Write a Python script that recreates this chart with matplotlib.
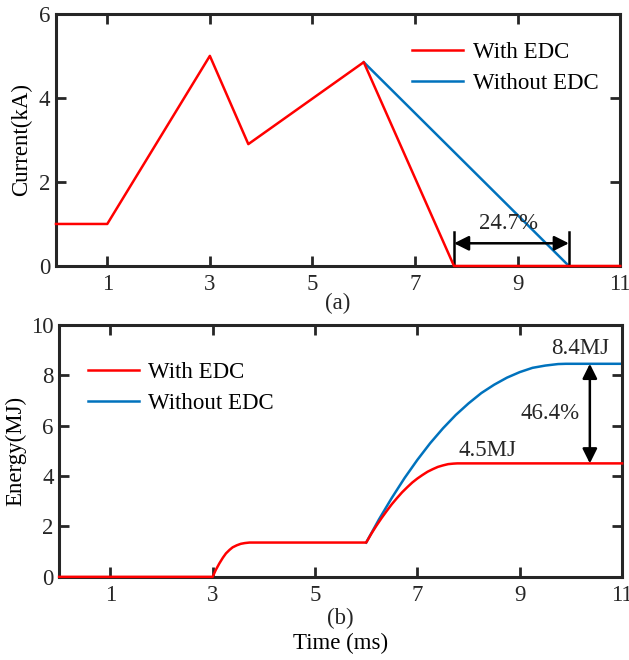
import matplotlib.pyplot as plt
import numpy as np

plt.rcParams['font.family'] = ['Liberation Serif', 'DejaVu Serif']

# datos
# (a) corriente
t_cur_con = [0, 1, 3, 3.75, 6, 7.76, 11]
i_cur_con = [1, 1, 5, 2.9, 4.85, 0, 0]
t_cur_sin = [6, 10]
i_cur_sin = [4.85, 0]

# (b) energia
t_en_con = [0, 3.0, 3.06, 3.13, 3.2, 3.26, 3.33, 3.39, 3.47, 3.55, 3.63, 3.72, 6.0,
            6.1, 6.2, 6.3, 6.4, 6.5, 6.6, 6.7, 6.8, 6.9, 7.0, 7.1, 7.2, 7.3, 7.4, 7.5,
            7.6, 7.7, 7.78, 11]
e_en_con = [0, 0, 0.27, 0.53, 0.76, 0.93, 1.07, 1.17, 1.25, 1.31, 1.34, 1.36, 1.36,
            1.71, 2.03, 2.33, 2.61, 2.88, 3.12, 3.35, 3.55, 3.74, 3.90, 4.04, 4.17, 4.27,
            4.36, 4.42, 4.47, 4.49, 4.5, 4.5]
t_en_sin = [6.0, 6.25, 6.5, 6.75, 7.0, 7.25, 7.5, 7.75, 8.0, 8.25, 8.5, 8.75, 9.0,
            9.25, 9.5, 9.75, 9.9, 11]
e_en_sin = [1.36, 2.28, 3.13, 3.92, 4.64, 5.30, 5.89, 6.42, 6.88, 7.29, 7.62, 7.90, 8.12,
            8.29, 8.38, 8.44, 8.45, 8.45]

ROJO = '#ff0000'
AZUL = '#0072bd'
TXT = '#262626'
FS = 16.5
xticks = [1, 3, 5, 7, 9, 11]


def estilo(ax, yticks):
    ax.set_xlim(0, 11)
    ax.set_xticks(xticks)
    ax.set_yticks(yticks)
    ax.tick_params(direction='in', length=7, width=2, top=True, right=True,
                   labelsize=FS, colors=TXT)
    ax.tick_params(axis='x', pad=6)
    ax.tick_params(axis='y', pad=4)
    for s in ax.spines.values():
        s.set_linewidth(2.2)
        s.set_color(TXT)


flecha = dict(arrowstyle='<|-|>', color='black', lw=1.8, mutation_scale=22,
              shrinkA=0, shrinkB=0)

fig = plt.figure(figsize=(6.29, 6.6), dpi=100)

# grafico (a)
ax1 = fig.add_axes([0.089, 0.597, 0.897, 0.382])
ax1.plot(t_cur_sin, i_cur_sin, color=AZUL, lw=1.8, label='Without EDC', zorder=2)
ax1.plot(t_cur_con, i_cur_con, color=ROJO, lw=1.8, label='With EDC', zorder=3, clip_on=False)
ax1.set_ylim(0, 6)
estilo(ax1, [0, 2, 4, 6])
ax1.set_ylabel('Current(kA)', fontsize=FS, labelpad=5)
h, l = ax1.get_legend_handles_labels()
ax1.legend(h[::-1], l[::-1], loc='upper right', bbox_to_anchor=(0.998, 0.97), frameon=False,
           fontsize=FS, handlelength=2.2, handletextpad=0.45, labelspacing=0.45)
# flecha 24.7%
ax1.annotate('', xy=(7.76, 0.54), xytext=(10, 0.54), arrowprops=flecha)
ax1.plot([7.76, 7.76], [0, 0.82], color='black', lw=1.8)
ax1.plot([10, 10], [0, 0.82], color='black', lw=1.8)
ax1.text(8.83, 1.02, '24.7%', ha='center', va='center', fontsize=FS, color=TXT)
ax1.text(5.5, -0.9, '(a)', ha='center', va='center', fontsize=FS, color=TXT)

# grafico (b)
ax2 = fig.add_axes([0.094, 0.126, 0.895, 0.382])
ax2.plot(t_en_con, e_en_con, color=ROJO, lw=1.8, label='With EDC', zorder=3, clip_on=False)
ax2.plot(t_en_sin, e_en_sin, color=AZUL, lw=1.8, label='Without EDC', zorder=2, clip_on=False)
ax2.set_ylim(0, 10)
estilo(ax2, [0, 2, 4, 6, 8, 10])
ax2.set_ylabel('Energy(MJ)', fontsize=FS, labelpad=3)
ax2.set_xlabel('Time (ms)', fontsize=FS, labelpad=19)
ax2.legend(loc='upper left', bbox_to_anchor=(0.015, 0.935), frameon=False,
           fontsize=FS, handlelength=2.2, handletextpad=0.4, labelspacing=0.45)
# flecha 46.4%
ax2.annotate('', xy=(10.37, 8.45), xytext=(10.37, 4.5), arrowprops=flecha)
ax2.text(9.6, 6.48, '46.4%', ha='center', va='center', fontsize=FS, color=TXT)
ax2.text(10.18, 9.05, '8.4MJ', ha='center', va='center', fontsize=FS, color=TXT)
ax2.text(8.37, 5.02, '4.5MJ', ha='center', va='center', fontsize=FS, color=TXT)
ax2.text(5.5, -1.65, '(b)', ha='center', va='center', fontsize=FS, color=TXT)

fig.savefig('out.png', dpi=100)
